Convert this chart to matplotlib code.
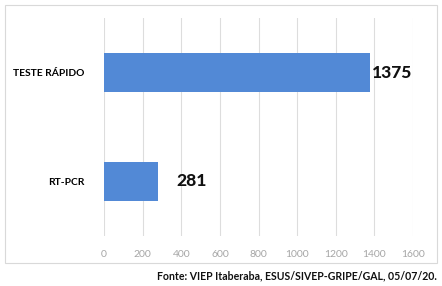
import matplotlib.pyplot as plt
from matplotlib.patches import Rectangle

# Data
categories = ["RT-PCR", "TESTE RÁPIDO"]
values = [281, 1375]
xticks = [0, 200, 400, 600, 800, 1000, 1200, 1400, 1600]
label_offsets = [13, 2]  # points, gap between bar end and value label
source = "Fonte: VIEP Itaberaba, ESUS/SIVEP-GRIPE/GAL, 05/07/20."

plt.rcParams["font.family"] = ["Lato", "DejaVu Sans"]

fig = plt.figure(figsize=(4.42, 2.86), dpi=100)
ax = fig.add_axes([104 / 442, 1 - 236 / 286, 309 / 442, 218 / 286])

# Outer chart frame
fig.patches.append(Rectangle((5 / 442, 1 - 263 / 286), 432 / 442, 258 / 286,
                             transform=fig.transFigure, fill=False,
                             edgecolor="#D9D9D9", linewidth=0.8, zorder=0))

ypos = range(len(categories))
ax.barh(ypos, values, height=0.35, color="#5289D6", zorder=3)

for y, v, off in zip(ypos, values, label_offsets):
    ax.annotate(str(v), xy=(v, y), xytext=(off, 0), textcoords="offset points",
                va="center", ha="left", fontsize=12.5, fontweight="black",
                color="#111111")

ax.set_xlim(0, 1600)
ax.set_ylim(-0.5, 1.5)
ax.set_xticks(xticks)
ax.set_yticks(list(ypos))
ax.set_yticklabels(categories, fontsize=7.4, fontweight="bold")
ax.tick_params(axis="x", length=0, labelsize=7.5, labelcolor="#A6A6A6", pad=10)
ax.tick_params(axis="y", length=0, pad=14)
ax.grid(axis="x", color="#DDDDDD", linewidth=0.8, zorder=0)
for s in ax.spines.values():
    s.set_visible(False)

fig.text(437 / 442, 1 - 276 / 286, source, ha="right", va="center",
         fontsize=7.6, fontweight="bold", color="#111111")

fig.savefig("out.png", dpi=100)
